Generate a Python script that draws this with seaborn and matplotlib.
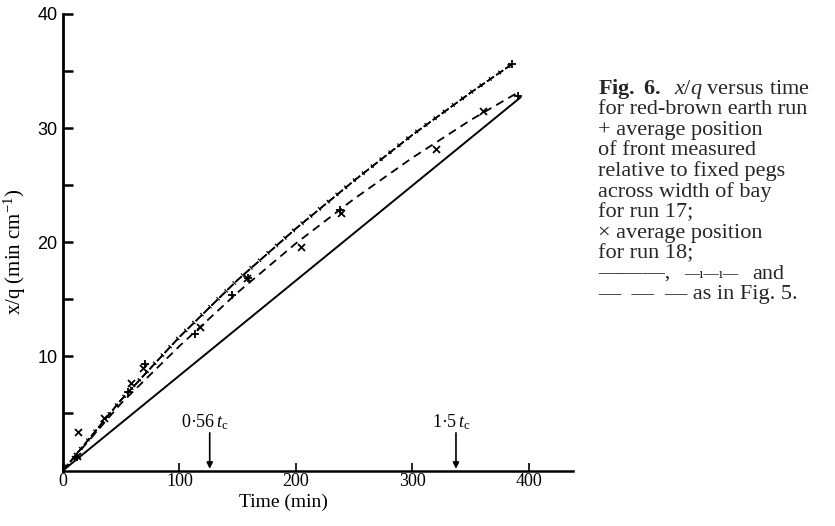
import numpy as np
import pandas as pd
import matplotlib
matplotlib.use("Agg")
import matplotlib.pyplot as plt
import matplotlib.patheffects as pe
import seaborn as sns
from matplotlib.ticker import FixedLocator

# ---------------- data ----------------
solid_t = [0, 393]
solid_y = [0, 32.7]

upper_t = [0, 50, 100, 150, 200, 250, 300, 350, 387]
upper_y = [0, 6.2, 11.7, 16.7, 21.2, 25.4, 29.4, 33.1, 35.7]

dashed_t = [0, 50, 100, 150, 200, 250, 300, 350, 392]
dashed_y = [0, 5.9, 10.9, 15.6, 19.9, 23.8, 27.4, 30.7, 33.2]

run17_t = [12, 56, 70, 113, 145, 159, 238, 386, 391]
run17_y = [1.2, 6.9, 9.3, 12.0, 15.4, 16.9, 22.8, 35.6, 32.8]

run18_t = [13, 12, 35, 58, 69, 118, 158, 204, 239, 320, 361]
run18_y = [3.4, 1.3, 4.6, 7.7, 9.0, 12.6, 16.9, 19.6, 22.6, 28.2, 31.5]

x_ticks = [0, 100, 200, 300, 400]
y_major = [10, 20, 30, 40]
y_minor = [5, 15, 25, 35]

tc_pos = [126, 337.5]
tc_text = ["0·56", "1·5"]

caption = [
    r"$\mathbf{Fig.\ 6.}$  $x/q$ versus time",
    "for red-brown earth run",
    "+ average position",
    "of front measured",
    "relative to fixed pegs",
    "across width of bay",
    "for run 17;",
    "× average position",
    "for run 18;",
    None,
    "—  —  — as in Fig. 5.",
]

# ---------------- style ----------------
sns.set_theme(style="ticks")
plt.rcParams["font.family"] = ["Liberation Serif", "DejaVu Serif"]
plt.rcParams["mathtext.fontset"] = "custom"
plt.rcParams["mathtext.rm"] = "Liberation Serif"
plt.rcParams["mathtext.it"] = "Liberation Serif:italic"
plt.rcParams["mathtext.bf"] = "Liberation Serif:bold"
plt.rcParams["lines.scale_dashes"] = False

W, H = 835, 526
fig = plt.figure(figsize=(W / 100, H / 100), dpi=100)
fig.patch.set_facecolor("white")
x0, x1 = 63, 573
y0, y1 = 470.5, 14
ax = fig.add_axes([x0 / W, 1 - y0 / H, (x1 - x0) / W, (y0 - y1) / H])
ax.set_facecolor("white")

# lines
sns.lineplot(x=solid_t, y=solid_y, ax=ax, color="black", lw=1.4,
             estimator=None, sort=False)
sns.lineplot(x=dashed_t, y=dashed_y, ax=ax, color="black", lw=1.3,
             estimator=None, sort=False)
ax.lines[-1].set_dashes((6, 4))
sns.lineplot(x=upper_t, y=upper_y, ax=ax, color="black", lw=1.1,
             estimator=None, sort=False)
ln = ax.lines[-1]
ln.set_dashes((6, 2))
ln.set_path_effects([
    pe.Normal(),
    pe.withTickedStroke(spacing=8, angle=90, length=0.22, linewidth=0.9),
    pe.withTickedStroke(spacing=8, angle=-90, length=0.18, linewidth=0.9),
])

# markers
sns.scatterplot(x=run17_t, y=run17_y, ax=ax, marker="+", s=40,
                color="black", linewidth=1.3)
sns.scatterplot(x=run18_t, y=run18_y, ax=ax, marker="x", s=25,
                color="black", linewidth=1.3)

ax.set_xlim(0, 438)
ax.set_ylim(0, 40)
sns.despine(ax=ax)
ax.spines["left"].set_linewidth(2.0)
ax.spines["bottom"].set_linewidth(1.8)
ax.spines["left"].set_color("black")
ax.spines["bottom"].set_color("black")

ax.xaxis.set_major_locator(FixedLocator(x_ticks))
ax.yaxis.set_major_locator(FixedLocator(y_major))
ax.yaxis.set_minor_locator(FixedLocator(y_minor))
ax.tick_params(axis="x", direction="in", length=6, width=1.2, colors="black",
               labelsize=13, pad=2)
ax.tick_params(axis="y", which="both", direction="in", length=7, width=1.8,
               colors="black", labelsize=13, pad=4)
for lab in ax.get_yticklabels():
    lab.set_fontfamily("Liberation Sans")

ax.set_xlabel("Time (min)", fontsize=14, color="black")
ax.set_ylabel(r"x/q (min cm$^{-1}$)", fontsize=15, color="black")
ax.xaxis.set_label_coords((283 - x0) / (x1 - x0), -(494 - y0) / (y0 - y1))
ax.yaxis.set_label_coords(-(63 - 28) / (x1 - x0), 0.48)

for p, t in zip(tc_pos, tc_text):
    ax.annotate("", xy=(p, 0.15), xytext=(p, 3.3),
                arrowprops=dict(arrowstyle="-|>", color="black", lw=1.2,
                                mutation_scale=9, shrinkA=0, shrinkB=0))
    ax.text(p - 4, 3.4, t + r"$\,t_{\mathrm{c}}$", ha="center", va="bottom",
            fontsize=13, color="black")

# caption
cx = 598 / W
fs = 16
for i, line in enumerate(caption):
    yy = 1 - (89 + 20.6 * i) / H
    if line is None:
        fig.text(cx, yy, "———,", fontsize=fs, va="center", ha="left")
        fig.text(684 / W, yy, "—ı—ı—", fontsize=11, va="center", ha="left")
        fig.text(752 / W, yy, "and", fontsize=fs, va="center", ha="left")
    else:
        fig.text(cx, yy, line, fontsize=fs, va="center", ha="left")

fig.savefig("out.png", dpi=100)
